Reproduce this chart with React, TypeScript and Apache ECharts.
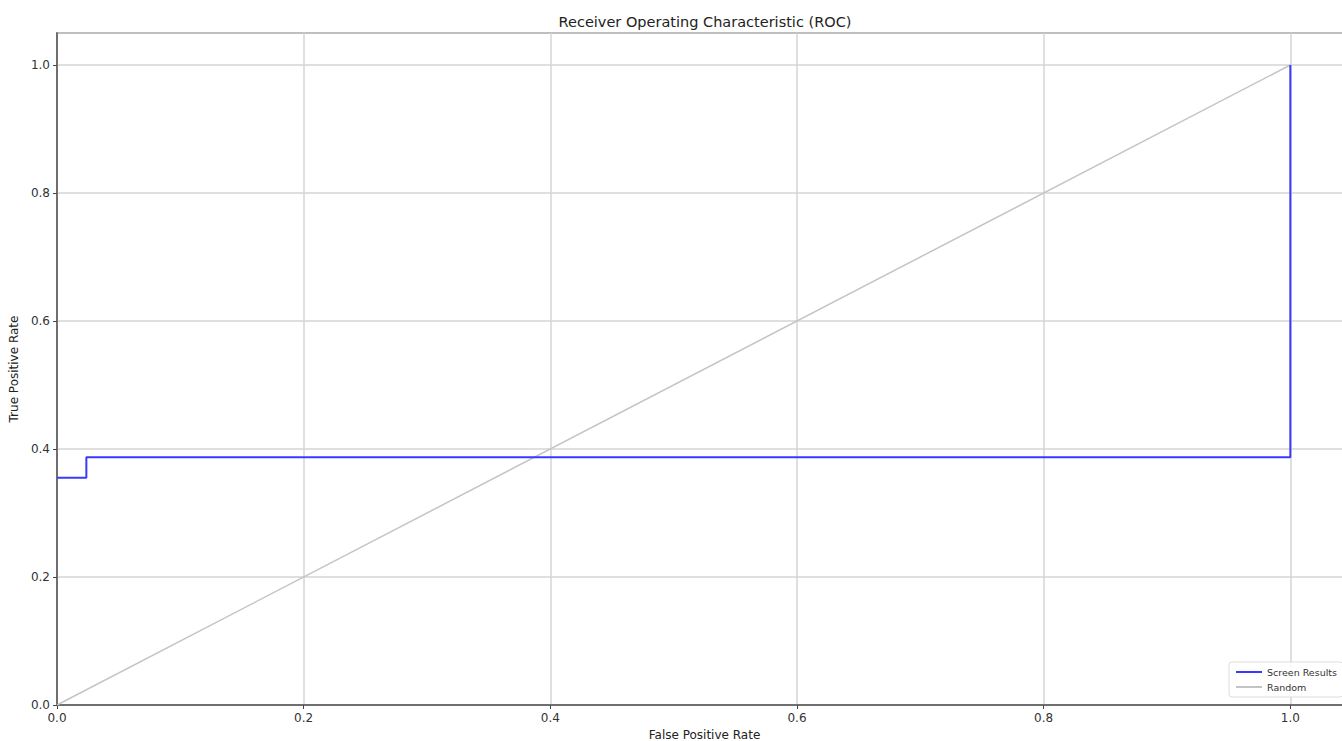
import React, { useEffect, useRef } from "react";
import * as echarts from "echarts";

const titleText = "Receiver Operating Characteristic (ROC)";
const xName = "False Positive Rate";
const yName = "True Positive Rate";
const rocFpr = [0.0, 0.0238, 0.0238, 1.0, 1.0];
const rocTpr = [0.355, 0.355, 0.387, 0.387, 1.0];
const randomFpr = [0.0, 1.0];
const randomTpr = [0.0, 1.0];
const seriesNames = ["Screen Results", "Random"];

export default function App() {
  const ref = useRef<HTMLDivElement>(null);
  useEffect(() => {
    if (!ref.current) return;
    const chart = echarts.init(ref.current, null, { renderer: "svg" });
    const font = "DejaVu Sans";
    const axisCommon = {
      type: "value" as const,
      min: 0,
      max: 1.05,
      interval: 0.2,
      nameLocation: "middle" as const,
      nameTextStyle: { fontFamily: font, fontSize: 12, color: "#222" },
      axisLine: { show: true, lineStyle: { color: "#555", width: 1.5 } },
      axisTick: { show: true, length: 4, lineStyle: { color: "#444", width: 1 } },
      axisLabel: {
        fontFamily: font,
        fontSize: 12,
        color: "#333",
        showMaxLabel: false,
        formatter: (v: number) => v.toFixed(1),
      },
      splitLine: { show: true, lineStyle: { color: "#d4d4d4", width: 1.5 } },
    };
    chart.setOption({
      animation: false,
      backgroundColor: "#fff",
      title: {
        text: titleText,
        left: 700,
        textAlign: "center",
        top: 9,
        textStyle: { fontFamily: font, fontSize: 14.5, fontWeight: "normal", color: "#222" },
      },
      grid: {
        left: 57,
        top: 33,
        right: 0,
        bottom: 36,
        show: true,
        borderColor: "#555",
        borderWidth: 1.5,
        containLabel: false,
        outerBoundsMode: "none",
      },
      xAxis: { ...axisCommon, name: xName, nameGap: 23, axisLabel: { ...axisCommon.axisLabel, margin: 7 } },
      yAxis: { ...axisCommon, name: yName, nameGap: 36, axisLabel: { ...axisCommon.axisLabel, margin: 7 } },
      legend: {
        orient: "vertical",
        left: 1229,
        top: 662,
        padding: [5, 6, 5, 7],
        itemGap: 5,
        itemWidth: 26,
        itemHeight: 2,
        borderColor: "#ddd",
        borderWidth: 1,
        borderRadius: 3,
        backgroundColor: "rgba(255,255,255,0.85)",
        textStyle: { fontFamily: font, fontSize: 9.5, color: "#333" },
        data: [
          { name: seriesNames[0], icon: "rect" },
          { name: seriesNames[1], icon: "rect" },
        ],
      },
      series: [
        {
          name: seriesNames[1],
          type: "line",
          data: randomFpr.map((x, i) => [x, randomTpr[i]]),
          showSymbol: false,
          symbol: "none",
          lineStyle: { color: "#c4c4c4", width: 1.5 },
          itemStyle: { color: "#c4c4c4" },
          z: 2,
        },
        {
          name: seriesNames[0],
          type: "line",
          data: rocFpr.map((x, i) => [x, rocTpr[i]]),
          showSymbol: false,
          symbol: "none",
          lineStyle: { color: "#3a3aff", width: 2 },
          itemStyle: { color: "#3a3aff" },
          z: 3,
        },
      ],
    });
    return () => chart.dispose();
  }, []);
  return (
    <div style={{ position: "fixed", left: 0, top: 0, width: 1342, height: 741, overflow: "hidden" }}>
      <div ref={ref} style={{ position: "absolute", left: 0, top: 0, width: 1352, height: 741 }} />
    </div>
  );
}
